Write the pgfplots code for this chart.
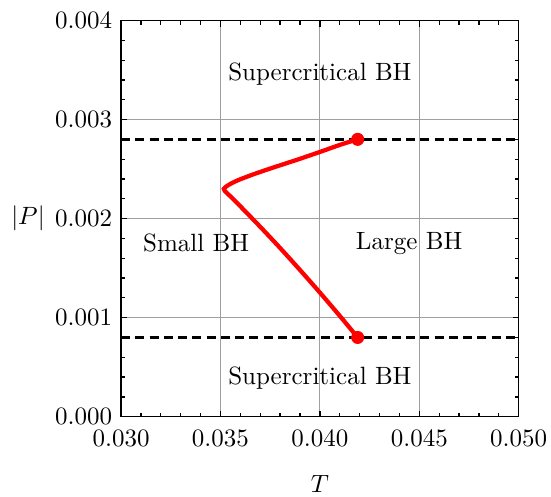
\documentclass[border=0pt]{standalone}
\usepackage{pgfplots}
\pgfplotsset{compat=1.18}

\begin{document}
\begin{tikzpicture}
% fixed page frame around the axis box (axis sits with its lower left corner at the origin)
\useasboundingbox (-48.4pt,-31.8pt) rectangle (171.9pt,166.6pt);
\begin{axis}[
  at={(0,0)}, anchor=south west,
  scale only axis,
  width=159pt, height=158.4pt,
  xmin=0.030, xmax=0.050,
  ymin=0, ymax=0.004,
  xtick={0.030,0.035,0.040,0.045,0.050},
  xticklabels={0.030,0.035,0.040,0.045,0.050},
  ytick={0,0.001,0.002,0.003,0.004},
  yticklabels={0.000,0.001,0.002,0.003,0.004},
  scaled ticks=false,
  minor x tick num=4, minor y tick num=4,
  tick align=inside,
  major tick length=2.4pt, minor tick length=1.6pt,
  tick style={black, line width=0.5pt},
  xticklabel style={yshift=-1.6pt},
  grid=major,
  major grid style={gray!75, line width=0.45pt},
  axis line style={line width=0.6pt},
  every axis x label/.style={at={(axis description cs:0.5,0)}, anchor=center, inner sep=0pt, yshift=-26.9pt},
  every axis y label/.style={at={(axis description cs:0,0.5)}, anchor=center, xshift=-37.2pt},
  xlabel={$T$},
  ylabel={$|P|$},
  clip=false,
]
% critical pressures bounding the coexistence region
\addplot[black, line width=1.2pt, dash pattern=on 3.6pt off 2.1pt] coordinates {(0.030,0.0028) (0.050,0.0028)};
\addplot[black, line width=1.2pt, dash pattern=on 3.6pt off 2.1pt] coordinates {(0.030,0.0008) (0.050,0.0008)};

% coexistence line
\addplot[red, line width=1.7pt, smooth, tension=0.5] coordinates {
  (0.04190,0.002800)
  (0.04109,0.002750)
  (0.04000,0.002673)
  (0.03891,0.002598)
  (0.03774,0.002521)
  (0.03674,0.002453)
  (0.03590,0.002389)
  (0.03540,0.002339)
  (0.03517,0.002300)
  (0.03530,0.002262)
  (0.03549,0.002227)
  (0.03600,0.002124)
  (0.03700,0.001917)
  (0.03800,0.001703)
  (0.03900,0.001481)
  (0.04000,0.001253)
  (0.04100,0.001018)
  (0.04190,0.000800)
};
\addplot[red, only marks, mark=*, mark size=2.4pt] coordinates {(0.0419,0.0028) (0.0419,0.0008)};

\node at (axis cs:0.0400,0.00346) {Supercritical BH};
\node at (axis cs:0.0400,0.00039) {Supercritical BH};
\node at (axis cs:0.03378,0.00175) {Small BH};
\node at (axis cs:0.04449,0.00175) {Large BH};
\end{axis}
\end{tikzpicture}
\end{document}
